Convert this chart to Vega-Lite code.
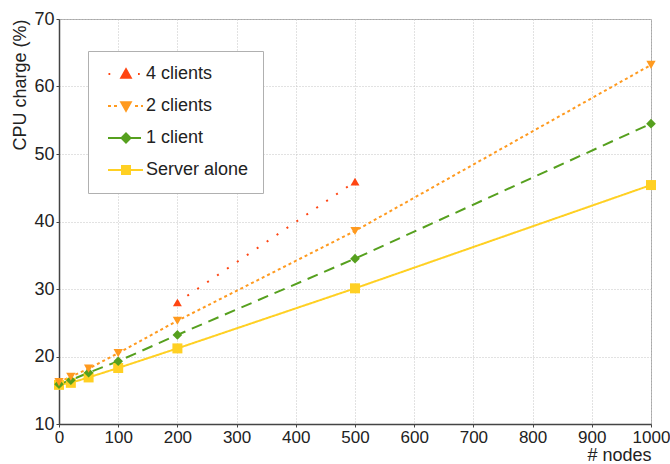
{
  "$schema": "https://vega.github.io/schema/vega-lite/v6.json",
  "width": 592,
  "height": 405,
  "autosize": {"type": "none"},
  "padding": {"left": 59, "top": 19, "right": 19, "bottom": 40},
  "config": {
    "font": "Liberation Sans",
    "view": {"stroke": "#a8a8a8", "strokeWidth": 1},
    "axis": {
      "labelFont": "Liberation Sans",
      "labelFontSize": 18,
      "labelColor": "#222222",
      "titleFont": "Liberation Sans",
      "titleFontSize": 18,
      "titleFontWeight": "normal",
      "titleColor": "#222222",
      "domainColor": "#444444",
      "domainWidth": 1.5,
      "tickColor": "#444444",
      "tickSize": 3,
      "labelPadding": 2,
      "labelFlush": false,
      "gridColor": "#c4c4c4",
      "gridDash": [1, 2],
      "gridWidth": 1
    },
    "legend": {
      "orient": "none",
      "legendX": 29,
      "legendY": 32,
      "fillColor": "white",
      "strokeColor": "#b0b0b0",
      "padding": 14,
      "labelFont": "Liberation Sans",
      "labelFontSize": 18,
      "labelColor": "#222222",
      "rowPadding": 14,
      "labelOffset": 26
    }
  },
  "data": {
    "values": [
      {"series": "Server alone", "nodes": 0, "cpu": 15.8},
      {"series": "Server alone", "nodes": 20, "cpu": 16.1},
      {"series": "Server alone", "nodes": 50, "cpu": 16.9},
      {"series": "Server alone", "nodes": 100, "cpu": 18.3},
      {"series": "Server alone", "nodes": 200, "cpu": 21.2},
      {"series": "Server alone", "nodes": 500, "cpu": 30.1},
      {"series": "Server alone", "nodes": 1000, "cpu": 45.4},
      {"series": "1 client", "nodes": 0, "cpu": 15.9},
      {"series": "1 client", "nodes": 20, "cpu": 16.5},
      {"series": "1 client", "nodes": 50, "cpu": 17.6},
      {"series": "1 client", "nodes": 100, "cpu": 19.3},
      {"series": "1 client", "nodes": 200, "cpu": 23.2},
      {"series": "1 client", "nodes": 500, "cpu": 34.5},
      {"series": "1 client", "nodes": 1000, "cpu": 54.5},
      {"series": "2 clients", "nodes": 0, "cpu": 16.2},
      {"series": "2 clients", "nodes": 20, "cpu": 17.0},
      {"series": "2 clients", "nodes": 50, "cpu": 18.2},
      {"series": "2 clients", "nodes": 100, "cpu": 20.5},
      {"series": "2 clients", "nodes": 200, "cpu": 25.3},
      {"series": "2 clients", "nodes": 500, "cpu": 38.6},
      {"series": "2 clients", "nodes": 1000, "cpu": 63.2},
      {"series": "4 clients", "nodes": 200, "cpu": 28.0},
      {"series": "4 clients", "nodes": 500, "cpu": 45.9}
    ]
  },
  "encoding": {
    "x": {
      "field": "nodes",
      "type": "quantitative",
      "scale": {"domain": [0, 1000], "nice": false},
      "axis": {
        "values": [0, 100, 200, 300, 400, 500, 600, 700, 800, 900, 1000],
        "format": "d",
        "labelFontSize": 17,
        "title": "# nodes",
        "titleAnchor": "end",
        "titlePadding": 1
      }
    },
    "y": {
      "field": "cpu",
      "type": "quantitative",
      "scale": {"domain": [10, 70], "nice": false, "zero": false},
      "axis": {
        "values": [10, 20, 30, 40, 50, 60, 70],
        "title": "CPU charge (%)",
        "titleAnchor": "end",
        "titlePadding": 4
      }
    }
  },
  "layer": [
    {
      "mark": {"type": "line", "strokeWidth": 2, "clip": false},
      "encoding": {
        "color": {
          "field": "series",
          "type": "nominal",
          "scale": {
            "domain": ["4 clients", "2 clients", "1 client", "Server alone"],
            "range": ["#ff4512", "#ff9a1f", "#56a01e", "#ffd023"]
          },
          "legend": {
            "title": null,
            "encode": {
              "symbols": {
                "update": {
                  "shape": {"signal": "datum.value === '4 clients' ? 'M-0.5,0h0.35M5.4,0h0.35M3,-0.95L3.95,0.75L2.05,0.75Z' : datum.value === '2 clients' ? 'M-0.6,0H0M0.6,0H1.2M4.8,0H5.4M6,0H6.4M3,0.95L3.95,-0.75L2.05,-0.75Z' : datum.value === '1 client' ? 'M-0.6,0H6M3,-0.9L3.9,0L3,0.9L2.1,0Z' : 'M-0.6,0H6.4M2.2,-0.8H3.8V0.8H2.2Z'"},
                  "fill": {"scale": "color", "field": "value"},
                  "stroke": {"scale": "color", "field": "value"},
                  "strokeWidth": {"value": 2},
                  "strokeDash": {"value": []},
                  "size": {"value": 100},
                  "opacity": {"value": 1},
                  "strokeOpacity": {"value": 1},
                  "fillOpacity": {"value": 1}
                }
              }
            }
          }
        },
        "strokeDash": {
          "field": "series",
          "type": "nominal",
          "scale": {
            "domain": ["Server alone", "1 client", "2 clients", "4 clients"],
            "range": [[1, 0], [11, 7], [3, 3], [2, 10]]
          },
          "legend": null
        }
      }
    },
    {
      "mark": {"type": "point", "filled": true, "opacity": 1, "clip": false},
      "encoding": {
        "fill": {
          "field": "series",
          "type": "nominal",
          "scale": {
            "domain": ["Server alone", "1 client", "2 clients", "4 clients"],
            "range": ["#ffd023", "#56a01e", "#ff9a1f", "#ff4512"]
          },
          "legend": null
        },
        "shape": {
          "field": "series",
          "type": "nominal",
          "scale": {
            "domain": ["Server alone", "1 client", "2 clients", "4 clients"],
            "range": ["square", "M0,-1L1,0L0,1L-1,0Z", "triangle-down", "triangle-up"]
          },
          "legend": null
        },
        "size": {
          "field": "series",
          "type": "nominal",
          "scale": {
            "domain": ["Server alone", "1 client", "2 clients", "4 clients"],
            "range": [100, 80, 150, 150]
          },
          "legend": null
        }
      }
    }
  ]
}
